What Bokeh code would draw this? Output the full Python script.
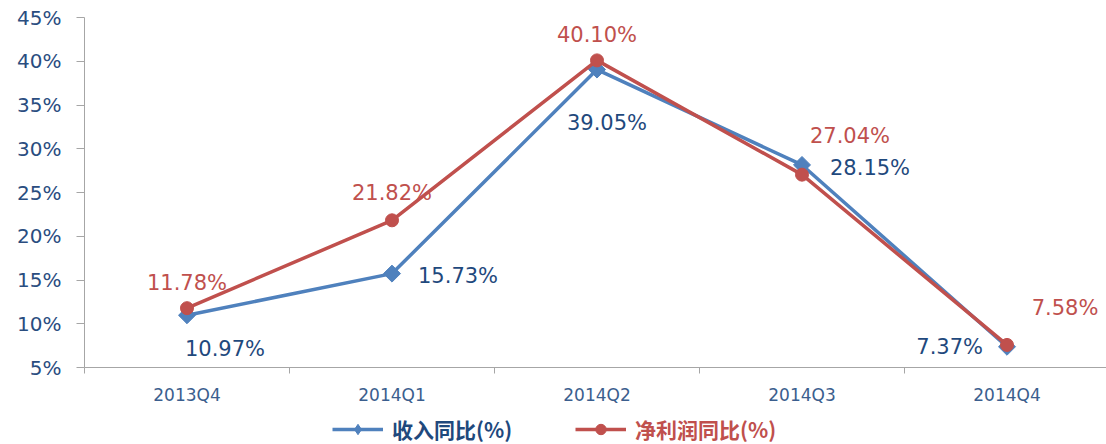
from bokeh.plotting import figure
from bokeh.layouts import column
from bokeh.models import (Range1d, FixedTicker, PrintfTickFormatter, Legend, LegendItem,
                          ColumnDataSource)
from bokeh.core.properties import value
from bokeh.embed import file_html
from bokeh.resources import INLINE
import numpy as np

# ---- data ----
categories = ["2013Q4", "2014Q1", "2014Q2", "2014Q3", "2014Q4"]
revenue_yoy = [10.97, 15.73, 39.05, 28.15, 7.37]      # 收入同比(%)
profit_yoy = [11.78, 21.82, 40.10, 27.04, 7.58]       # 净利润同比(%)
y_ticks = [5, 10, 15, 20, 25, 30, 35, 40, 45]
series_names = ["收入同比(%)", "净利润同比(%)"]

# ---- styles ----
BLUE = "#4F81BD"
RED = "#C0504D"
BLUE_TXT = "#1F497D"
RED_TXT = "#C0504D"
AXIS_C = "#A6A6A6"
NUM_FONT = "DejaVu Sans"

xs = list(range(1, len(categories) + 1))
bounds = [i + 0.5 for i in range(0, len(categories) + 1)]

W = 1106
H_MAIN, H_LEG = 407, 37
ML, MT, MB = 84, 17, 40
frame_w = W - ML
px_per_cat = 205.0

p = figure(width=W, height=H_MAIN, output_backend="svg", toolbar_location=None,
           x_range=Range1d(0.5, 0.5 + frame_w / px_per_cat), y_range=Range1d(5, 45),
           min_border_left=ML, min_border_right=0, min_border_top=MT,
           min_border_bottom=MB)
p.outline_line_color = None
p.xgrid.visible = False
p.ygrid.visible = False

# y axis
ya = p.yaxis[0]
ya.ticker = FixedTicker(ticks=y_ticks)
ya.formatter = PrintfTickFormatter(format="%d%%")
ya.axis_line_color = AXIS_C
ya.major_tick_line_color = AXIS_C
ya.major_tick_out = 8
ya.major_tick_in = 0
ya.minor_tick_line_color = None
ya.major_label_standoff = 15
ya.major_label_text_font = NUM_FONT
ya.major_label_text_font_size = "20px"
ya.major_label_text_color = "#2A4D7F"

# x axis
xa = p.xaxis[0]
xa.ticker = FixedTicker(ticks=xs, minor_ticks=bounds)
xa.major_label_overrides = {x: c for x, c in zip(xs, categories)}
xa.axis_line_color = AXIS_C
xa.major_tick_line_color = None
xa.major_tick_out = 0
xa.major_tick_in = 0
xa.minor_tick_line_color = AXIS_C
xa.minor_tick_out = 6
xa.minor_tick_in = 0
xa.major_label_standoff = 11
xa.major_label_text_font = NUM_FONT
xa.major_label_text_font_size = "17px"
xa.major_label_text_color = "#3B5E8E"


def draw_series(fig, ys, color, marker, size, angle=0.0):
    ln = fig.line(xs, ys, line_color=color, line_width=3.5)
    mk = fig.scatter(xs, ys, marker=marker, size=size, angle=angle,
                     fill_color=color, line_color=color)
    return ln, mk


bl, bm = draw_series(p, revenue_yoy, BLUE, "square", 12, np.pi / 4)
rl, rm = draw_series(p, profit_yoy, RED, "circle", 13)

# data labels
rev_src = ColumnDataSource(dict(
    x=xs, y=revenue_yoy, t=["%.2f%%" % v for v in revenue_yoy],
    dx=[38, 26, 10, 28, -24], dy=[34, 2, 53, 3, 0],
    al=["center", "left", "center", "left", "right"]))
p.text("x", "y", text="t", source=rev_src, x_offset="dx", y_offset="dy",
       text_align="al", text_baseline="middle", text_color=BLUE_TXT,
       text_font=value(NUM_FONT), text_font_size="21px")

pro_src = ColumnDataSource(dict(
    x=xs, y=profit_yoy, t=["%.2f%%" % v for v in profit_yoy],
    dx=[0, 0, 0, 48, 58], dy=[-25, -27, -25, -39, -37],
    al=["center", "center", "center", "center", "center"]))
p.text("x", "y", text="t", source=pro_src, x_offset="dx", y_offset="dy",
       text_align="al", text_baseline="middle", text_color=RED_TXT,
       text_font=value(NUM_FONT), text_font_size="21px")

# legend strip: a frameless figure whose ranges keep the series out of view,
# holding the two legend entries (each with its own text colour)
lf = figure(width=W, height=H_LEG, output_backend="svg", toolbar_location=None,
            x_axis_location=None, y_axis_location=None,
            x_range=Range1d(1000, 1001), y_range=Range1d(1000, 1001),
            min_border=0, min_border_left=0, min_border_right=0,
            min_border_top=0, min_border_bottom=0)
lf.grid.visible = False
lf.outline_line_color = None
lbl, lbm = draw_series(lf, revenue_yoy, BLUE, "diamond", 12)
lrl, lrm = draw_series(lf, profit_yoy, RED, "circle", 13)


def make_legend(name, rends, color, loc):
    leg = Legend(items=[LegendItem(label=name, renderers=rends)], location=loc,
                 orientation="horizontal", background_fill_alpha=0,
                 border_line_color=None, padding=0, margin=0, spacing=0,
                 glyph_width=51, glyph_height=26, label_height=26, label_standoff=9,
                 label_text_font="Noto Sans CJK SC", label_text_font_style="bold",
                 label_text_font_size="21px", label_text_color=color)
    lf.add_layout(leg)


# the column aligns this strip's frame with the chart frame (left edge at ML)
make_legend(series_names[0], [lbl, lbm], BLUE_TXT, (332 - ML, 0))
make_legend(series_names[1], [lrl, lrm], RED_TXT, (575 - ML, 0))

layout = column(p, lf, spacing=0)
open("out.html", "w").write(file_html(layout, INLINE))
